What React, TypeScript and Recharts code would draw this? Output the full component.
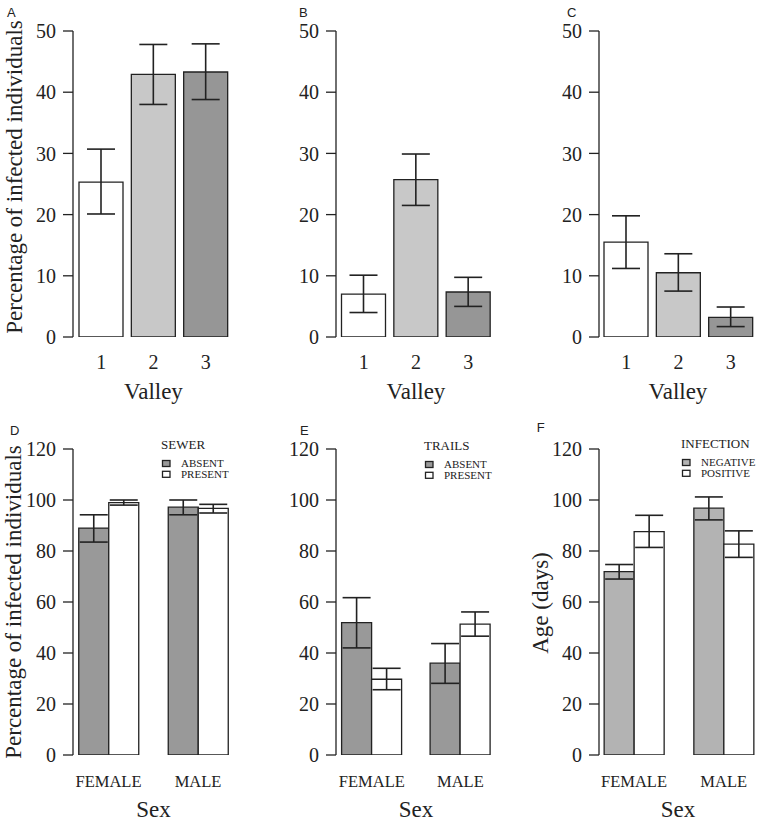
import React from 'react';
import { BarChart, Bar, XAxis, YAxis, ErrorBar, Cell, Legend } from 'recharts';

const SERIF = "'Liberation Serif', 'Times New Roman', Times, serif";
const SANS = "'Liberation Sans', Arial, Helvetica, sans-serif";
const INK = '#222222';

// ---------- Panels A-C : valley ----------
const valleyLabels = ['1', '2', '3'];
const valleyColors = ['#ffffff', '#c8c8c8', '#969696'];

const valueA = [25.3, 42.9, 43.3];
const lowA = [20.1, 38.0, 38.8];
const highA = [30.7, 47.8, 47.9];

const valueB = [7.0, 25.7, 7.35];
const lowB = [4.0, 21.5, 5.0];
const highB = [10.1, 29.9, 9.75];

const valueC = [15.5, 10.5, 3.2];
const lowC = [11.2, 7.5, 1.7];
const highC = [19.8, 13.6, 4.9];

const valleyTicks = [0, 10, 20, 30, 40, 50];

// ---------- Panels D-F : sex ----------
const sexLabels = ['FEMALE', 'MALE'];
const sexTicks = [0, 20, 40, 60, 80, 100, 120];

const sewerAbsent = [89.0, 97.2];
const sewerAbsentLow = [83.5, 94.2];
const sewerAbsentHigh = [94.2, 100.0];
const sewerPresent = [99.0, 96.7];
const sewerPresentLow = [98.0, 94.9];
const sewerPresentHigh = [100.0, 98.3];

const trailsAbsent = [51.9, 36.0];
const trailsAbsentLow = [42.0, 28.1];
const trailsAbsentHigh = [61.7, 43.7];
const trailsPresent = [29.7, 51.3];
const trailsPresentLow = [25.6, 46.6];
const trailsPresentHigh = [34.0, 56.1];

const ageNegative = [71.9, 96.8];
const ageNegativeLow = [69.0, 92.2];
const ageNegativeHigh = [74.7, 101.2];
const agePositive = [87.6, 82.7];
const agePositiveLow = [81.4, 77.5];
const agePositiveHigh = [94.0, 87.9];

const valleyData = (v: number[], lo: number[], hi: number[]) =>
  valleyLabels.map((c, i) => ({ cat: c, v: v[i], lo: lo[i], hi: hi[i] }));

const sexData = (
  a: number[], aLo: number[], aHi: number[],
  p: number[], pLo: number[], pHi: number[]
) =>
  sexLabels.map((c, i) => ({
    cat: c, a: a[i], aLo: aLo[i], aHi: aHi[i], p: p[i], pLo: pLo[i], pHi: pHi[i],
  }));

const dataA = valleyData(valueA, lowA, highA);
const dataB = valleyData(valueB, lowB, highB);
const dataC = valleyData(valueC, lowC, highC);
const dataD = sexData(sewerAbsent, sewerAbsentLow, sewerAbsentHigh, sewerPresent, sewerPresentLow, sewerPresentHigh);
const dataE = sexData(trailsAbsent, trailsAbsentLow, trailsAbsentHigh, trailsPresent, trailsPresentLow, trailsPresentHigh);
const dataF = sexData(ageNegative, ageNegativeLow, ageNegativeHigh, agePositive, agePositiveLow, agePositiveHigh);

const Y_LABEL = 'Percentage of infected individuals';

type PanelProps = {
  left: number;
  top: number;
  width: number;
  height: number;
  yw: number;
  mr: number;
  mt: number;
  xh: number;
  pad: { left: number; right: number };
  letter: string;
  letterX: number;
  letterY: number;
  yLabel?: string;
  yLabelX?: number;
  yLabelY?: number;
  xTitle: string;
  xTitleX: number;
  xTitleY: number;
  tickY: number;
  tickSize: number;
  domain: [number, number];
  ticks: number[];
  children: React.ReactNode;
  data: any[];
  legend?: { title: string; x: number; y: number };
};

const makeLegend = (title: string) => (props: any) => {
  const items = (props && props.payload) || [];
  return (
    <svg width={110} height={48} style={{ display: 'block', overflow: 'visible' }}>
      <text x={3} y={12.5} fontFamily={SERIF} fontSize={13} fill={INK}>{title}</text>
      {items.map((it: any, i: number) => (
        <g key={i}>
          <rect x={4.5} y={24.5 + i * 10.8} width={7.5} height={6} fill={it.color} stroke={INK} strokeWidth={1.3} />
          <text x={23} y={30.7 + i * 10.8} fontFamily={SERIF} fontSize={11} fill={INK}>{it.value}</text>
        </g>
      ))}
    </svg>
  );
};

function Panel(p: PanelProps) {
  const yLabelFn = () => (
    <g>
      <text x={p.letterX} y={p.letterY} fontFamily={SANS} fontSize={13} fill={INK}>{p.letter}</text>
      {p.yLabel ? (
        <text
          x={p.yLabelX}
          y={p.yLabelY}
          transform={`rotate(-90 ${p.yLabelX} ${p.yLabelY})`}
          textAnchor="middle"
          fontFamily={SERIF}
          fontSize={23}
          fill={INK}
        >
          {p.yLabel}
        </text>
      ) : null}
    </g>
  );
  const xLabelFn = () => (
    <text x={p.xTitleX} y={p.xTitleY} textAnchor="middle" fontFamily={SERIF} fontSize={23} fill={INK}>
      {p.xTitle}
    </text>
  );
  const xTick = (t: any) => (
    <text x={t.x} y={p.tickY} textAnchor="middle" fontFamily={SERIF} fontSize={p.tickSize} fill={INK}>
      {t.payload.value}
    </text>
  );
  return (
    <div style={{ position: 'absolute', left: p.left, top: p.top }}>
      <BarChart
        width={p.width}
        height={p.height}
        data={p.data}
        margin={{ top: p.mt, right: p.mr, bottom: 0, left: 0 }}
        barGap={0}
      >
        <XAxis
          dataKey="cat"
          axisLine={false}
          tickLine={false}
          height={p.xh}
          padding={p.pad}
          interval={0}
          tick={xTick}
          label={xLabelFn}
        />
        <YAxis
          width={p.yw}
          domain={p.domain}
          ticks={p.ticks}
          allowDataOverflow
          tickSize={10}
          tickMargin={7}
          axisLine={{ stroke: INK, strokeWidth: 1.3 }}
          tickLine={{ stroke: INK, strokeWidth: 1.3 }}
          tick={{ fill: INK, fontSize: 20, fontFamily: SERIF }}
          label={yLabelFn}
        />
        {p.legend ? (
          <Legend
            layout="horizontal"
            verticalAlign="middle"
            align="center"
            content={makeLegend(p.legend.title)}
            wrapperStyle={{ position: 'absolute', left: p.legend.x, top: p.legend.y, width: 110, height: 48 }}
          />
        ) : null}
        {p.children}
      </BarChart>
    </div>
  );
}

const valleyBar = (data: any[]) => (
  <Bar dataKey="v" barSize={44} stroke={INK} strokeWidth={1.3} isAnimationActive={false}>
    {data.map((_d, i) => (
      <Cell key={i} fill={valleyColors[i]} />
    ))}
    <ErrorBar dataKey={(d: any) => [d.v - d.lo, d.hi - d.v]} width={14} stroke={INK} strokeWidth={1.6} direction="y" />
  </Bar>
);

const sexBars = (nameA: string, colorA: string, nameP: string, colorP: string) => [
  <Bar key="a" dataKey="a" name={nameA} fill={colorA} barSize={30} stroke={INK} strokeWidth={1.3} isAnimationActive={false}>
    <ErrorBar dataKey={(d: any) => [d.a - d.aLo, d.aHi - d.a]} width={14} stroke={INK} strokeWidth={1.6} direction="y" />
  </Bar>,
  <Bar key="p" dataKey="p" name={nameP} fill={colorP} barSize={30} stroke={INK} strokeWidth={1.3} isAnimationActive={false}>
    <ErrorBar dataKey={(d: any) => [d.p - d.pLo, d.pHi - d.p]} width={14} stroke={INK} strokeWidth={1.6} direction="y" />
  </Bar>,
];

export default function App() {
  const topCommon = {
    top: 0, height: 412, mt: 31, xh: 75, tickY: 369, tickSize: 20, xTitle: 'Valley', xTitleY: 399,
    domain: [0, 50] as [number, number], ticks: valleyTicks, letterY: 17,
  };
  const botCommon = {
    top: 400, height: 424, mt: 49, xh: 69, tickY: 386.5, tickSize: 16.5, xTitle: 'Sex', xTitleY: 417,
    domain: [0, 120] as [number, number], ticks: sexTicks,
  };
  return (
    <div style={{ position: 'absolute', left: 0, top: 0, width: 757, height: 824, background: '#ffffff', overflow: 'hidden' }}>
      <Panel {...topCommon} left={0} width={250} yw={73} mr={16} pad={{ left: 2, right: 2 }}
        letter="A" letterX={7} yLabel={Y_LABEL} yLabelX={22} yLabelY={177} xTitleX={153.5} data={dataA}>
        {valleyBar(dataA)}
      </Panel>
      <Panel {...topCommon} left={250} width={250} yw={86} mr={4} pad={{ left: 1.5, right: 1.5 }}
        letter="B" letterX={49} xTitleX={166} data={dataB}>
        {valleyBar(dataB)}
      </Panel>
      <Panel {...topCommon} left={500} width={257} yw={99} mr={0} pad={{ left: 1, right: 0 }}
        letter="C" letterX={67} xTitleX={178} data={dataC}>
        {valleyBar(dataC)}
      </Panel>

      <Panel {...botCommon} left={0} width={250} yw={73} mr={16} pad={{ left: -9.25, right: -8.75 }}
        letter="D" letterX={10} letterY={35} yLabel={Y_LABEL} yLabelX={21} yLabelY={202} xTitleX={153.5}
        data={dataD} legend={{ title: 'SEWER', x: 158, y: 36 }}>
        {sexBars('ABSENT', '#999999', 'PRESENT', '#ffffff')}
      </Panel>
      <Panel {...botCommon} left={250} width={250} yw={86} mr={4} pad={{ left: -8.4, right: -8.6 }}
        letter="E" letterX={50} letterY={35} xTitleX={166} data={dataE} legend={{ title: 'TRAILS', x: 171.3, y: 36.5 }}>
        {sexBars('ABSENT', '#999999', 'PRESENT', '#ffffff')}
      </Panel>
      <Panel {...botCommon} left={500} width={257} yw={99} mr={0} pad={{ left: -9.85, right: -11.55 }}
        letter="F" letterX={36.7} letterY={31.7} yLabel="Age (days)" yLabelX={48} yLabelY={203} xTitleX={178}
        data={dataF} legend={{ title: 'INFECTION', x: 177.7, y: 34.7 }}>
        {sexBars('NEGATIVE', '#b3b3b3', 'POSITIVE', '#ffffff')}
      </Panel>
    </div>
  );
}
